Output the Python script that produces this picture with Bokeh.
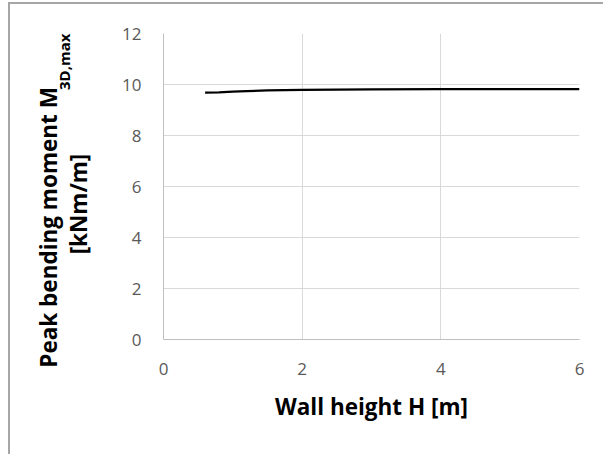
from bokeh.plotting import figure
from bokeh.models import Range1d, FixedTicker, LinearAxis
from bokeh.embed import file_html
from bokeh.resources import INLINE

# Peak bending moment versus wall height
wall_height = [0.6, 0.8, 1.0, 1.2, 1.5, 2.0, 2.5, 3.0, 4.0, 5.0, 6.0]
peak_moment = [9.68, 9.69, 9.72, 9.74, 9.77, 9.79, 9.80, 9.81, 9.82, 9.82, 9.82]

x_ticks = [0, 2, 4, 6]
y_ticks = [0, 2, 4, 6, 8, 10, 12]

FONT = "Open Sans"
NBSP = "\u00a0"           # padding that shifts a centred axis title along its axis
OX, OY = 10, 4            # offset of the chart box inside the page
W, H = 605 - OX, 456 - OY

p = figure(width=W, height=H, output_backend="svg", toolbar_location=None,
           x_range=Range1d(0, 6), y_range=Range1d(0, 12),
           min_border_left=163 - OX, min_border_right=26,
           min_border_top=33 - OY, min_border_bottom=117)
p.styles = {"border-left": "2px solid #a6a6a6", "border-top": "2px solid #a6a6a6",
            "margin-left": f"{OX - 2}px", "margin-top": f"{OY - 2}px"}
p.outline_line_color = None
p.background_fill_color = "white"
p.border_fill_color = "white"

for ax in (p.xaxis[0], p.yaxis[0]):
    ax.major_tick_line_color = None
    ax.minor_tick_line_color = None
    ax.major_tick_out = 0
    ax.minor_tick_out = 0
    ax.axis_line_color = "#bfbfbf"
    ax.axis_line_width = 1
    ax.major_label_text_font = FONT
    ax.major_label_text_font_size = "17px"
    ax.major_label_text_color = "#595959"

p.xaxis.ticker = FixedTicker(ticks=x_ticks)
p.yaxis.ticker = FixedTicker(ticks=y_ticks)
p.xaxis.major_label_standoff = 23
p.yaxis.major_label_standoff = 22

p.xaxis.axis_label = "Wall height H [m]"
p.xaxis.axis_label_text_font = FONT
p.xaxis.axis_label_text_font_style = "bold"
p.xaxis.axis_label_text_font_size = "22.5px"
p.xaxis.axis_label_text_color = "black"
p.xaxis.axis_label_standoff = 13

p.xgrid.ticker = FixedTicker(ticks=x_ticks)
p.ygrid.ticker = FixedTicker(ticks=y_ticks)
p.grid.grid_line_color = "#d9d9d9"
p.grid.grid_line_width = 1

p.line(wall_height, peak_moment, line_color="black", line_width=2.25)


# Y axis title: label-only axes stacked to the left of the tick axis
def title_axis(text, size, standoff):
    ax = LinearAxis(ticker=FixedTicker(ticks=[]),
                    axis_line_color=None, major_tick_line_color=None,
                    minor_tick_line_color=None, major_tick_out=0, minor_tick_out=0,
                    axis_label=text, axis_label_align="center",
                    axis_label_text_font=FONT, axis_label_text_font_style="bold",
                    axis_label_text_font_size=size, axis_label_text_color="black",
                    axis_label_standoff=standoff)
    p.add_layout(ax, "left")
    return ax


title_axis("[kNm/m]" + NBSP * 6, "22.5px", 26)
title_axis(NBSP * 64 + "3D,max", "15px", -14)
title_axis("Peak bending moment M" + NBSP * 14, "22.5px", -13)

open("out.html", "w").write(file_html(p, INLINE))
